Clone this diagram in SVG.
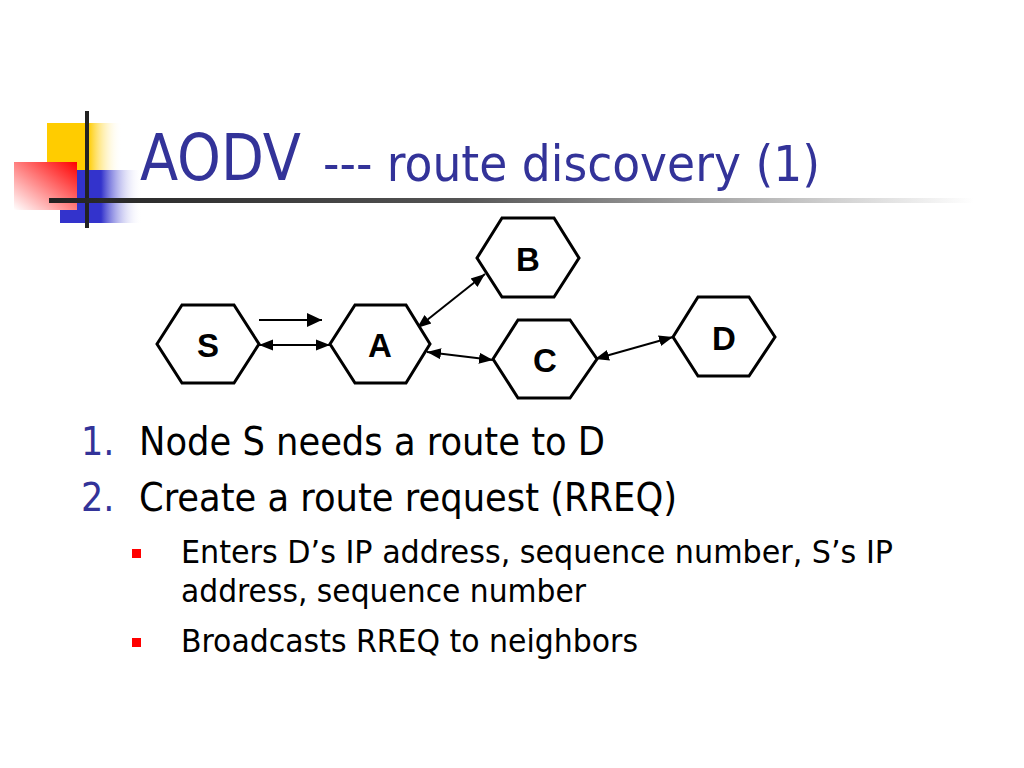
<svg xmlns="http://www.w3.org/2000/svg" width="1024" height="768" viewBox="0 0 1024 768">
  <style>
    .hex { fill: #ffffff; stroke: #000000; stroke-width: 3; stroke-linejoin: miter; }
    .lbl { font-family: "Liberation Sans", Arial, sans-serif; font-weight: bold; font-size: 33px; fill: #000000; text-anchor: middle; }
    .conn { stroke: #000000; stroke-width: 2; fill: none; }
    .title { font-family: "DejaVu Sans Condensed", "DejaVu Sans", sans-serif; fill: #333399; }
    .body { font-family: "DejaVu Sans Condensed", "DejaVu Sans", sans-serif; fill: #000000; }
    .num { font-family: "DejaVu Sans Condensed", "DejaVu Sans", sans-serif; fill: #333399; }
  </style>
  <defs>
    <linearGradient id="gYellow" x1="0" y1="0" x2="1" y2="0">
      <stop offset="0" stop-color="#FFCC00"/>
      <stop offset="0.55" stop-color="#FFCC00"/>
      <stop offset="1" stop-color="#FFFFFF" stop-opacity="0"/>
    </linearGradient>
    <linearGradient id="gBlue" x1="0" y1="0" x2="1" y2="0">
      <stop offset="0" stop-color="#3333CC"/>
      <stop offset="0.5" stop-color="#3333CC"/>
      <stop offset="1" stop-color="#FFFFFF" stop-opacity="0"/>
    </linearGradient>
    <linearGradient id="gRed" x1="1" y1="0" x2="0" y2="1">
      <stop offset="0" stop-color="#FF0000"/>
      <stop offset="1" stop-color="#FFFFFF"/>
    </linearGradient>
    <linearGradient id="gBar" x1="0" y1="0" x2="1" y2="0">
      <stop offset="0" stop-color="#222222"/>
      <stop offset="0.45" stop-color="#555555"/>
      <stop offset="1" stop-color="#FFFFFF"/>
    </linearGradient>
    <marker id="head" markerUnits="userSpaceOnUse" markerWidth="15" markerHeight="13" refX="14" refY="6.5" orient="auto-start-reverse">
      <path d="M0,1 L14,6.5 L0,12 z" fill="#000000"/>
    </marker>
    <marker id="bighead" markerUnits="userSpaceOnUse" markerWidth="16" markerHeight="14" refX="15" refY="7" orient="auto">
      <path d="M0,0 L15,7 L0,14 z" fill="#000000"/>
    </marker>
  </defs>

  <rect width="1024" height="768" fill="#ffffff"/>

  <g id="decoration">
    <rect x="47" y="123" width="75" height="47" fill="url(#gYellow)"/>
    <rect x="60" y="170" width="82" height="53" fill="url(#gBlue)"/>
    <rect x="14" y="162" width="63" height="48" fill="url(#gRed)"/>
    <line x1="87" y1="111" x2="87" y2="228" stroke="#222222" stroke-width="4"/>
    <rect x="49" y="198" width="925" height="5" fill="url(#gBar)"/>
  </g>

  <g id="title">
    <text class="title" x="140" y="180" font-size="64" textLength="161" lengthAdjust="spacingAndGlyphs">AODV</text>
    <text class="title" x="323" y="181" font-size="50" textLength="497" lengthAdjust="spacingAndGlyphs">--- route discovery (1)</text>
  </g>

  <g id="connectors">
    <line class="conn" x1="259" y1="320" x2="322" y2="320" stroke-width="3" marker-end="url(#bighead)"/>
    <line class="conn" x1="259" y1="345" x2="330" y2="345" marker-start="url(#head)" marker-end="url(#head)"/>
    <line class="conn" x1="417" y1="328" x2="485" y2="274" marker-start="url(#head)" marker-end="url(#head)"/>
    <line class="conn" x1="427" y1="352" x2="493" y2="360" marker-start="url(#head)" marker-end="url(#head)"/>
    <line class="conn" x1="595" y1="359" x2="673" y2="337" marker-start="url(#head)" marker-end="url(#head)"/>
  </g>

  <g id="node-S">
    <polygon class="hex" points="157,344 182,305 234,305 259,344 234,383 182,383"/>
    <text class="lbl" x="208" y="357">S</text>
  </g>
  <g id="node-A">
    <polygon class="hex" points="330,344 355,305 406,305 430,344 406,383 355,383"/>
    <text class="lbl" x="380" y="357">A</text>
  </g>
  <g id="node-B">
    <polygon class="hex" points="477,258 502,218 554,218 579,258 554,297 502,297"/>
    <text class="lbl" x="528" y="271">B</text>
  </g>
  <g id="node-C">
    <polygon class="hex" points="493,359 518,320 570,320 597,359 570,398 518,398"/>
    <text class="lbl" x="545" y="372">C</text>
  </g>
  <g id="node-D">
    <polygon class="hex" points="673,337 698,297 749,297 775,337 749,376 698,376"/>
    <text class="lbl" x="724" y="350">D</text>
  </g>

  <g id="bullets">
    <text class="num" x="81" y="455" font-size="39">1.</text>
    <text class="body" x="139" y="455" font-size="39" textLength="466" lengthAdjust="spacingAndGlyphs">Node S needs a route to D</text>
    <text class="num" x="81" y="511" font-size="39">2.</text>
    <text class="body" x="139" y="511" font-size="39" textLength="538" lengthAdjust="spacingAndGlyphs">Create a route request (RREQ)</text>
    <rect x="132" y="549" width="9" height="9" fill="#FF0000"/>
    <text class="body" x="181" y="563" font-size="32" textLength="712" lengthAdjust="spacingAndGlyphs">Enters D’s IP address, sequence number, S’s IP</text>
    <text class="body" x="181" y="602" font-size="32" textLength="405" lengthAdjust="spacingAndGlyphs">address, sequence number</text>
    <rect x="132" y="638" width="9" height="9" fill="#FF0000"/>
    <text class="body" x="181" y="652" font-size="32" textLength="457" lengthAdjust="spacingAndGlyphs">Broadcasts RREQ to neighbors</text>
  </g>
</svg>
